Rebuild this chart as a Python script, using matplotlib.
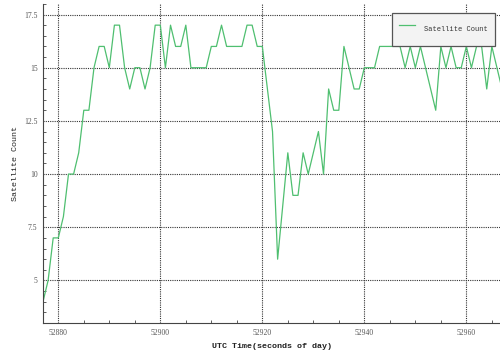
import matplotlib
matplotlib.use("Agg")
import matplotlib.pyplot as plt
from matplotlib.ticker import MultipleLocator, FuncFormatter

# UTC seconds of day and visible satellite count
utc_time = [52877, 52878, 52879, 52880, 52881, 52882, 52883, 52884, 52885, 52886,
            52887, 52888, 52889, 52890, 52891, 52892, 52893, 52894, 52895, 52896,
            52897, 52898, 52899, 52900, 52901, 52902, 52903, 52904, 52905, 52906,
            52907, 52908, 52909, 52910, 52911, 52912, 52913, 52914, 52915, 52916,
            52917, 52918, 52919, 52920, 52922, 52923, 52925, 52926, 52927, 52928,
            52929, 52931, 52932, 52933, 52934, 52935, 52936, 52938, 52939, 52940,
            52941, 52942, 52943, 52944, 52945, 52946, 52947, 52948, 52949, 52950,
            52951, 52954, 52955, 52956, 52957, 52958, 52959, 52960, 52961, 52962,
            52963, 52964, 52965, 52966, 52967]
sat_count = [4, 5, 7, 7, 8, 10, 10, 11, 13, 13,
             15, 16, 16, 15, 17, 17, 15, 14, 15, 15,
             14, 15, 17, 17, 15, 17, 16, 16, 17, 15,
             15, 15, 15, 16, 16, 17, 16, 16, 16, 16,
             17, 17, 16, 16, 12, 6, 11, 9, 9, 11,
             10, 12, 10, 14, 13, 13, 16, 14, 14, 15,
             15, 15, 16, 16, 16, 16, 16, 15, 16, 15,
             16, 13, 16, 15, 16, 15, 15, 16, 15, 16,
             16, 14, 16, 15, 14]

fig = plt.figure(figsize=(5, 3.53), dpi=100)
ax = fig.add_axes([0.086, 0.085, 0.914, 0.904])

ax.plot(utc_time, sat_count, color="#4fbf70", linewidth=0.9, label="Satellite Count")

ax.set_xlim(52877, 52966.6)
ax.set_ylim(3, 18)
ax.xaxis.set_major_locator(MultipleLocator(20))
ax.xaxis.set_minor_locator(MultipleLocator(5))
ax.yaxis.set_major_locator(MultipleLocator(2.5))
ax.yaxis.set_minor_locator(MultipleLocator(0.5))
ax.yaxis.set_major_formatter(FuncFormatter(lambda v, p: f"{v:g}"))
ax.tick_params(which="both", direction="in", colors="#444444",
               labelcolor="#555555", labelsize=5.5, width=0.6)
ax.tick_params(which="major", length=0, pad=4)
ax.tick_params(which="minor", length=2.5)
for lab in ax.get_xticklabels() + ax.get_yticklabels():
    lab.set_family("Liberation Serif")

ax.grid(True, which="major", color="#333333", linestyle=(0, (1, 1)), linewidth=0.8)
for side in ("top", "right"):
    ax.spines[side].set_visible(False)
for side in ("left", "bottom"):
    ax.spines[side].set_color("#444444")
    ax.spines[side].set_linewidth(0.8)

ax.set_xlabel("UTC Time(seconds of day)", family="Liberation Mono",
              fontsize=6, fontweight="bold", color="#222222", labelpad=5)
ax.set_ylabel("Satellite Count", family="Liberation Mono",
              fontsize=6, color="#222222", labelpad=4)

leg = ax.legend(loc="upper right", bbox_to_anchor=(0.989, 0.972), borderaxespad=0,
                prop={"family": "Liberation Mono", "size": 5},
                handlelength=2.4, handletextpad=1.3, handleheight=3.8,
                borderpad=1.0, fancybox=False, shadow=False, framealpha=1)
leg.get_frame().set_edgecolor("#555555")
leg.get_frame().set_facecolor("#f3f3f3")
leg.get_frame().set_linewidth(0.9)
for t in leg.get_texts():
    t.set_color("#333333")

fig.savefig("out.png", dpi=100)
